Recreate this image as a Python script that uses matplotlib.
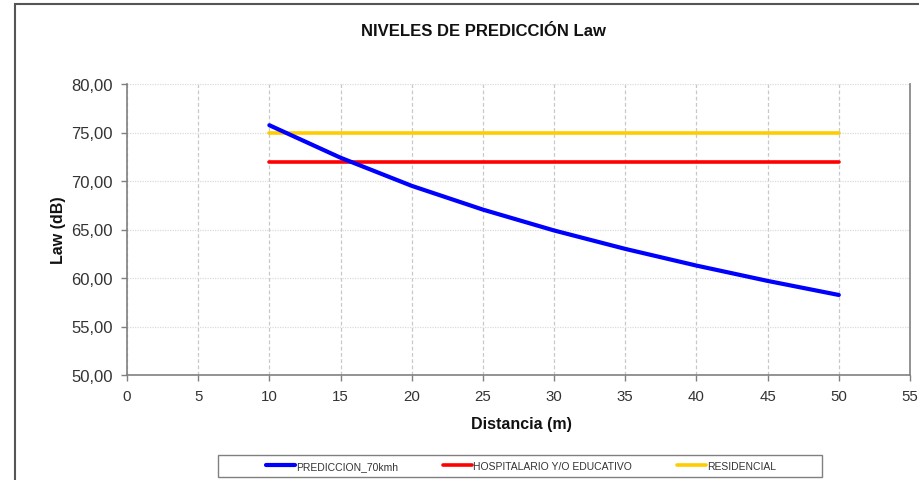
import matplotlib
matplotlib.use("Agg")
import matplotlib.pyplot as plt
from matplotlib.patches import Rectangle
from matplotlib.ticker import FuncFormatter, MultipleLocator

plt.rcParams['font.family'] = ['Liberation Sans', 'DejaVu Sans']

# ---- data ----
distancia = [10, 15, 20, 25, 30, 35, 40, 45, 50]
prediccion_70kmh = [75.75, 72.40, 69.50, 67.05, 64.90, 63.00, 61.28, 59.70, 58.25]
hospitalario = [72.0, 72.0, 72.0, 72.0, 72.0, 72.0, 72.0, 72.0, 72.0]
residencial = [75.0, 75.0, 75.0, 75.0, 75.0, 75.0, 75.0, 75.0, 75.0]
labels = ["PREDICCION_70kmh", "HOSPITALARIO Y/O EDUCATIVO", "RESIDENCIAL"]
title = "NIVELES DE PREDICCIÓN Law"
xlabel = "Distancia (m)"
ylabel = "Law (dB)"

W, H = 919, 481
fig = plt.figure(figsize=(W / 100, H / 100), dpi=100)
fig.patch.set_facecolor('white')

ax = fig.add_axes([127 / W, 1 - 376 / H, (910 - 127) / W, (376 - 85) / H])

l1, = ax.plot(distancia, prediccion_70kmh, color='#0000FF', lw=3.0, solid_capstyle='round', zorder=5)
l2, = ax.plot(distancia, hospitalario, color='#FF0000', lw=2.6, solid_capstyle='round', zorder=4)
l3, = ax.plot(distancia, residencial, color='#FFCC00', lw=2.6, solid_capstyle='round', zorder=4)

ax.set_xlim(0, 55)
ax.set_ylim(50, 80)
ax.xaxis.set_major_locator(MultipleLocator(5))
ax.yaxis.set_major_locator(MultipleLocator(5))
ax.yaxis.set_major_formatter(FuncFormatter(lambda v, p: f"{v:.2f}".replace('.', ',')))

ax.xaxis.grid(True, color='#c8c8c8', linestyle=(0, (3, 2)), lw=0.9)
ax.yaxis.grid(True, color='#dcdcdc', linestyle=(0, (1, 1)), lw=0.9)
ax.set_axisbelow(True)

for s in ['left', 'bottom', 'right']:
    ax.spines[s].set_color('#808080')
    ax.spines[s].set_linewidth(1.2)
ax.spines['top'].set_visible(False)

ax.tick_params(axis='both', direction='out', length=4, width=1, color='#808080',
               labelcolor='#333333')
ax.tick_params(axis='y', labelsize=12, pad=6)
ax.tick_params(axis='x', labelsize=10.8, pad=6)

fig.text(483 / W, 1 - 32 / H, title, ha='center', va='center', fontsize=12, fontweight='bold', color='#111111')
fig.text(521 / W, 1 - 425 / H, xlabel, ha='center', va='center', fontsize=11.5, fontweight='bold', color='#111111')
fig.text(58 / W, 1 - 230 / H, ylabel, ha='center', va='center', rotation=90, fontsize=11.5, fontweight='bold', color='#111111')

# legend
fig.legend([l1, l2, l3], labels, loc='center', bbox_to_anchor=(521 / W, 1 - 467 / H),
           ncol=3, frameon=False, fontsize=7.5, handlelength=2.8, handletextpad=0.1,
           columnspacing=4.3, labelcolor='#333333')
fig.patches.append(Rectangle((218 / W, 1 - 478 / H), (822 - 218) / W, 22 / H,
                             transform=fig.transFigure, fill=False, edgecolor='#808080', lw=1.0))

# outer chart frame (partially visible)
fig.patches.append(Rectangle((15 / W, -0.1), 2.0, 1.1 - 5 / H,
                             transform=fig.transFigure, fill=False, edgecolor='#555555', lw=1.5))

fig.savefig('out.png', dpi=100)
